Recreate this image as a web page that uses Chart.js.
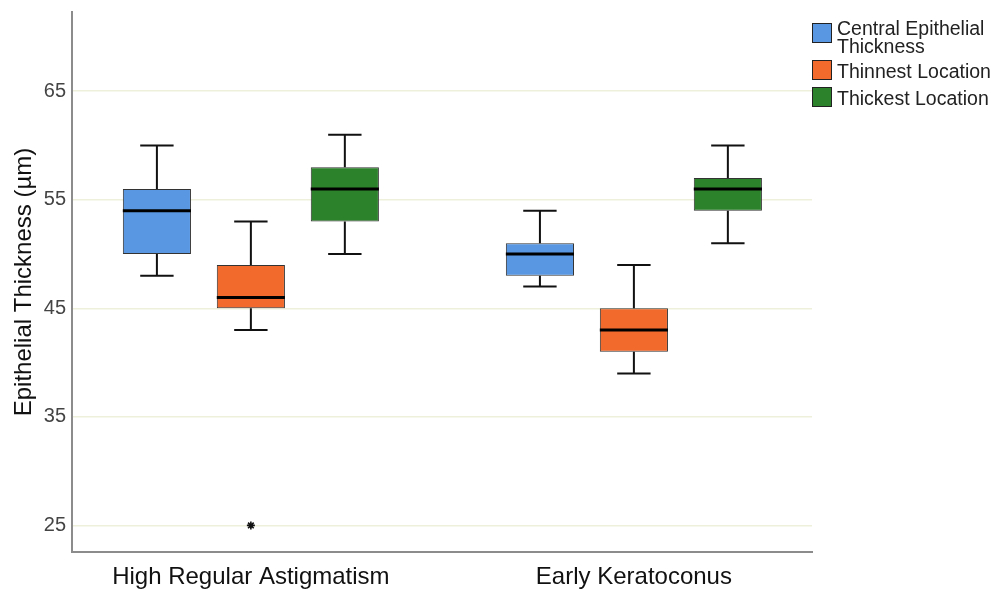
<!DOCTYPE html>
<html>
<head>
<meta charset="utf-8">
<script src="https://cdn.jsdelivr.net/npm/chart.js@4.4.1/dist/chart.umd.min.js"></script>
<style>
  body { margin: 0; background: #fff; }
  .wrap { position: relative; width: 996px; height: 589px; }
  .legend { position: absolute; left: 0; top: 0; font-family: "Liberation Sans", Arial, sans-serif; font-size: 19.5px; color: #222; }
  .legend .sw { position: absolute; left: 812px; width: 18px; height: 18px; border: 1px solid #222; }
  .legend .txt { position: absolute; left: 837px; line-height: 18px; white-space: nowrap; }
</style>
</head>
<body>
<div class="wrap">
  <canvas id="boxChart"></canvas>
  <div class="legend" id="legend"></div>
</div>
<script>
const groups = ["High Regular Astigmatism", "Early Keratoconus"];
const seriesNames = [
  ["Central Epithelial", "Thickness"],
  ["Thinnest Location"],
  ["Thickest Location"],
];
const seriesColors = ["#5a97e3", "#f26a2c", "#2b822b"];

// one row per series, one value per group
const whiskerLow = [[48, 47], [43, 39], [50, 51]];
const q1 = [[50, 48], [45, 41], [53, 54]];
const median = [[54, 50], [46, 43], [56, 56]];
const q3 = [[56, 51], [49, 45], [58, 57]];
const whiskerHigh = [[60, 54], [53, 49], [61, 60]];

// extreme value (asterisk)
const outlierSeries = 1;
const outlierGroup = 0;
const outlierValue = 25;

const yTicks = [25, 35, 45, 55, 65];

const ctx = document.getElementById("boxChart").getContext("2d");

const boxDatasets = seriesNames.map((name, s) => ({
  type: "bar",
  label: name.join(" "),
  data: groups.map((g, i) => ({ x: i + 1, y: [q1[s][i], q3[s][i]] })),
  backgroundColor: seriesColors[s],
  borderColor: "#333",
  borderWidth: 1,
  borderSkipped: false,
  categoryPercentage: 0.736,
  barPercentage: 0.725,
  order: 2,
}));

const outlierDataset = {
  type: "scatter",
  label: "outlier",
  data: [{ x: outlierGroup + 1, y: outlierValue }],
  pointStyle: "star",
  radius: 4,
  borderColor: "#111",
  borderWidth: 1.6,
  backgroundColor: "#111",
  order: 1,
};

const whiskerPlugin = {
  id: "whiskers",
  afterDatasetsDraw(chart) {
    const c = chart.ctx;
    const y = chart.scales.y;
    c.save();
    c.strokeStyle = "#111";
    boxDatasets.forEach((ds, s) => {
      const meta = chart.getDatasetMeta(s);
      meta.data.forEach((bar, i) => {
        const x = bar.x;
        const half = bar.width / 2;
        const cap = bar.width * 0.245;
        const yHi = y.getPixelForValue(whiskerHigh[s][i]);
        const yLo = y.getPixelForValue(whiskerLow[s][i]);
        const yQ3 = y.getPixelForValue(q3[s][i]);
        const yQ1 = y.getPixelForValue(q1[s][i]);
        const yMed = y.getPixelForValue(median[s][i]);
        c.lineWidth = 2;
        c.beginPath();
        c.moveTo(x, yQ3); c.lineTo(x, yHi);
        c.moveTo(x - cap, yHi); c.lineTo(x + cap, yHi);
        c.moveTo(x, yQ1); c.lineTo(x, yLo);
        c.moveTo(x - cap, yLo); c.lineTo(x + cap, yLo);
        c.stroke();
        c.lineWidth = 3;
        c.strokeStyle = "#000";
        c.beginPath();
        c.moveTo(x - half, yMed); c.lineTo(x + half, yMed);
        c.stroke();
        c.strokeStyle = "#111";
      });
    });
    c.restore();
  },
};

new Chart(ctx, {
  data: {
    datasets: [...boxDatasets, outlierDataset],
  },
  options: {
    responsive: true,
    maintainAspectRatio: false,
    animation: false,
    layout: { padding: { left: 0, right: 184, top: 12, bottom: 0 } },
    scales: {
      x: {
        type: "linear",
        offset: false,
        min: 0.533,
        max: 2.465,
        afterBuildTicks: (scale) => {
          scale.ticks = groups.map((g, i) => ({ value: i + 1 }));
        },
        afterFit: (scale) => {
          scale.height = 37;
          scale.paddingLeft = 0;
          scale.paddingRight = 0;
        },
        grid: { display: false, drawTicks: false },
        border: { display: true, color: "#8c8c8c", width: 2 },
        ticks: {
          color: "#111",
          padding: 11,
          autoSkip: false,
          maxRotation: 0,
          font: { family: "'Liberation Sans', Arial, sans-serif", size: 24 },
          callback: (v) => groups[v - 1] || "",
        },
      },
      y: {
        min: 22.55,
        max: 72.3,
        afterBuildTicks: (scale) => {
          scale.ticks = yTicks.map((v) => ({ value: v }));
        },
        afterFit: (scale) => {
          scale.width = 72;
          scale.paddingTop = 0;
          scale.paddingBottom = 0;
        },
        grid: { color: "#eef0dc", lineWidth: 1.5, drawTicks: false },
        border: { display: true, color: "#8c8c8c", width: 2 },
        ticks: {
          color: "#444",
          padding: 6,
          font: { family: "'Liberation Sans', Arial, sans-serif", size: 20 },
        },
        title: {
          display: true,
          text: "Epithelial Thickness (µm)",
          color: "#111",
          padding: { top: 10, bottom: 0 },
          font: { family: "'Liberation Sans', Arial, sans-serif", size: 24 },
        },
      },
    },
    plugins: {
      legend: { display: false },
      tooltip: { enabled: false },
    },
  },
  plugins: [whiskerPlugin],
});

// legend drawn as html next to the plot
const legendEl = document.getElementById("legend");
const legendTops = [23, 60, 87];
const textTops = [19, 62, 89];
seriesNames.forEach((lines, s) => {
  legendEl.insertAdjacentHTML(
    "beforeend",
    `<div class="sw" style="top:${legendTops[s]}px;background:${seriesColors[s]}"></div>
     <div class="txt" style="top:${textTops[s]}px">${lines.join("<br>")}</div>`
  );
});
</script>
</body>
</html>
